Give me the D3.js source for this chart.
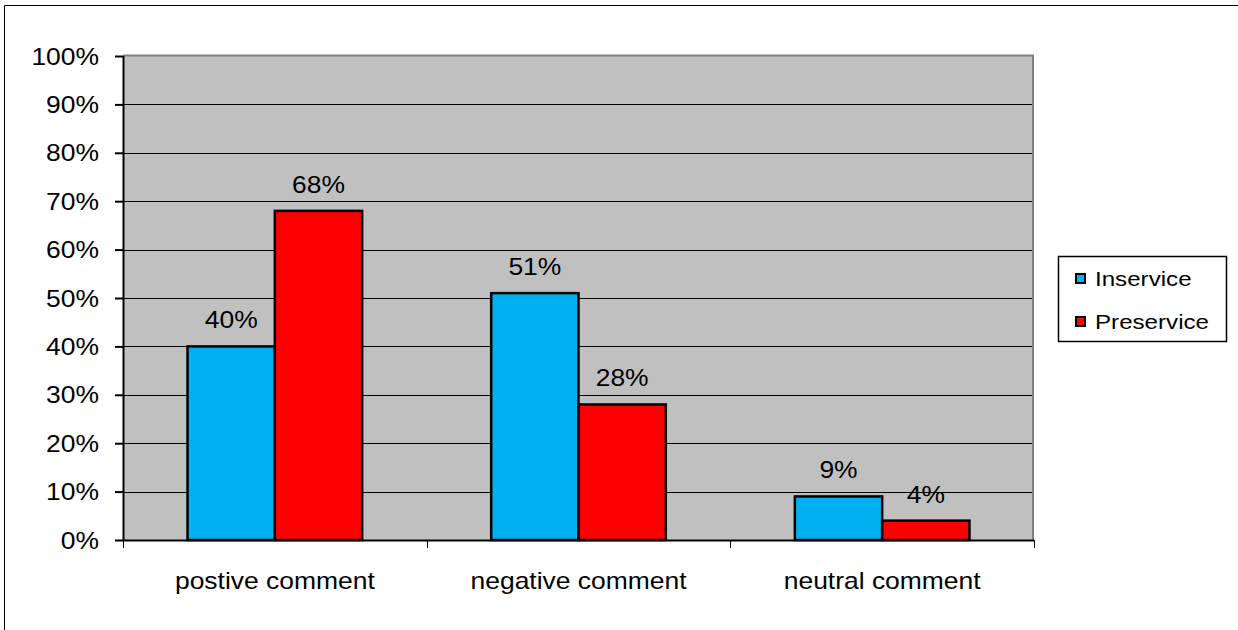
<!DOCTYPE html>
<html>
<head>
<meta charset="utf-8">
<script src="https://cdn.jsdelivr.net/npm/d3@7"></script>
<style>
  body { margin: 0; background: #fff; }
  svg text { font-family: "Liberation Sans", Arial, sans-serif; fill: #000; }
</style>
</head>
<body>
<div id="chart"></div>
<script>
// Data
const categories = ["postive comment", "negative comment", "neutral comment"];
const seriesNames = ["Inservice", "Preservice"];
const inservice = [40, 51, 9];
const preservice = [68, 28, 4];
const yTicks = [0, 10, 20, 30, 40, 50, 60, 70, 80, 90, 100];

const colors = { Inservice: "#00b0f0", Preservice: "#ff0000" };

const W = 1238, H = 630;
const plot = { left: 123, top: 56, right: 1034, bottom: 540 };
const sx = 1.15; // source text looks stretched horizontally

const svg = d3.select("#chart").append("svg")
    .attr("width", W)
    .attr("height", H);

// Outer frame (only top and left visible in the source)
svg.append("line").attr("x1", 4.5).attr("x2", W).attr("y1", 5.5).attr("y2", 5.5)
    .attr("stroke", "#000").attr("stroke-width", 1);
svg.append("line").attr("x1", 4.5).attr("x2", 4.5).attr("y1", 5.5).attr("y2", H)
    .attr("stroke", "#000").attr("stroke-width", 1);

// Scales
const x0 = d3.scaleBand()
    .domain(categories)
    .range([plot.left, plot.right])
    .paddingInner(0)
    .paddingOuter(0);

const bw = x0.bandwidth() * 0.575 / 2; // bar width (Excel gap width ~150%)
const x1 = d3.scaleBand()
    .domain(seriesNames)
    .range([0, bw * 2]);

const y = d3.scaleLinear()
    .domain([0, 100])
    .range([plot.bottom, plot.top]);

// Plot area background
svg.append("rect")
    .attr("x", plot.left)
    .attr("y", plot.top)
    .attr("width", plot.right - plot.left)
    .attr("height", plot.bottom - plot.top)
    .attr("fill", "#c0c0c0");

// Gridlines
svg.append("g").selectAll("line")
    .data(yTicks.filter(d => d > 0 && d < 100))
    .enter().append("line")
    .attr("x1", plot.left)
    .attr("x2", plot.right)
    .attr("y1", d => Math.round(y(d)) + 0.5)
    .attr("y2", d => Math.round(y(d)) + 0.5)
    .attr("stroke", "#000")
    .attr("stroke-width", 1);

// Plot border top/right in gray
svg.append("path")
    .attr("d", `M${plot.left},${plot.top - 0.5}H${plot.right - 1}V${plot.bottom}`)
    .attr("fill", "none")
    .attr("stroke", "#808080")
    .attr("stroke-width", 2);

// Bars
const rows = categories.map((c, i) => ({
    cat: c,
    values: [
        { key: "Inservice", value: inservice[i] },
        { key: "Preservice", value: preservice[i] }
    ]
}));

const groups = svg.append("g").selectAll(".grp")
    .data(rows)
    .enter().append("g")
    .attr("class", "grp")
    .attr("transform", d => `translate(${x0(d.cat) + x0.bandwidth() / 2 - bw}, 0)`);

groups.selectAll("rect")
    .data(d => d.values)
    .enter().append("rect")
    .attr("x", d => x1(d.key))
    .attr("y", d => y(d.value))
    .attr("width", x1.bandwidth())
    .attr("height", d => y(0) - y(d.value))
    .attr("fill", d => colors[d.key])
    .attr("stroke", "#000")
    .attr("stroke-width", 2.5);

// Value labels
groups.selectAll(".val")
    .data(d => d.values)
    .enter().append("text")
    .attr("class", "val")
    .attr("transform", d => `translate(${x1(d.key) + x1.bandwidth() / 2}, ${y(d.value) - 18}) scale(${sx},1)`)
    .attr("text-anchor", "middle")
    .style("font-size", "23px")
    .text(d => d.value + "%");

// Y axis
const yAxis = d3.axisLeft(y)
    .tickValues(yTicks)
    .tickSize(8)
    .tickFormat(d => d + "%");

const gy = svg.append("g")
    .attr("transform", `translate(${plot.left}, 0)`)
    .call(yAxis);
gy.select(".domain").attr("stroke", "#000").attr("stroke-width", 2)
    .attr("d", `M0.5,${plot.top}V${plot.bottom}`);
gy.selectAll(".tick line").attr("stroke", "#000").attr("stroke-width", 2);
gy.selectAll(".tick text")
    .attr("x", null)
    .attr("dy", null)
    .attr("transform", `translate(-24, 8) scale(${sx},1)`)
    .style("font-size", "23px")
    .style("font-family", "'Liberation Sans', Arial, sans-serif");

// X axis
svg.append("line")
    .attr("x1", plot.left)
    .attr("x2", plot.right)
    .attr("y1", plot.bottom + 0.5)
    .attr("y2", plot.bottom + 0.5)
    .attr("stroke", "#000")
    .attr("stroke-width", 2);

const xTickPos = categories.map(c => x0(c)).concat([plot.right]);
svg.append("g").selectAll("line")
    .data(xTickPos)
    .enter().append("line")
    .attr("x1", d => Math.round(d) + 0.5)
    .attr("x2", d => Math.round(d) + 0.5)
    .attr("y1", plot.bottom)
    .attr("y2", plot.bottom + 8)
    .attr("stroke", "#000")
    .attr("stroke-width", 1);

svg.append("g").selectAll("text")
    .data(categories)
    .enter().append("text")
    .attr("transform", d => `translate(${x0(d) + x0.bandwidth() / 2}, 589) scale(${sx},1)`)
    .attr("text-anchor", "middle")
    .style("font-size", "23px")
    .text(d => d);

// Legend
const legend = svg.append("g")
    .attr("transform", "translate(1058, 256)");

legend.append("rect")
    .attr("x", 0.5)
    .attr("y", 0.5)
    .attr("width", 168)
    .attr("height", 85)
    .attr("fill", "#fff")
    .attr("stroke", "#000")
    .attr("stroke-width", 1.5);

const items = legend.selectAll(".item")
    .data(seriesNames)
    .enter().append("g")
    .attr("class", "item")
    .attr("transform", (d, i) => `translate(0, ${i * 43})`);

items.append("rect")
    .attr("x", 18)
    .attr("y", 18)
    .attr("width", 9)
    .attr("height", 9)
    .attr("fill", d => colors[d])
    .attr("stroke", "#000")
    .attr("stroke-width", 2);

items.append("text")
    .attr("transform", `translate(37, 30) scale(${sx},1)`)
    .style("font-size", "21px")
    .text(d => d);
</script>
</body>
</html>
